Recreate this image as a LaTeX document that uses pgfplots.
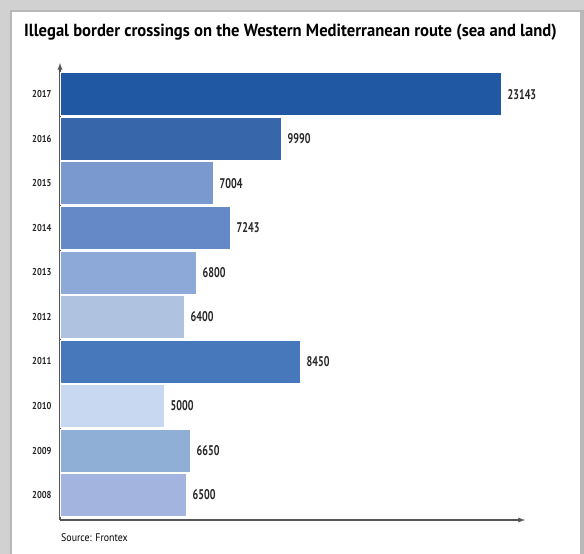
\documentclass[border=0pt]{standalone}
\usepackage{pgfplots}
\pgfplotsset{compat=1.18}
\usepackage{fontspec}
\setmainfont{PT Sans}
\newfontfamily\titlefont{PT Sans}[FakeStretch=0.95]
\newfontfamily\labfont{PT Sans}[FakeStretch=0.72]
\newfontfamily\tickfont{PT Sans}[FakeStretch=0.85]
\newfontfamily\srcfont{PT Sans}[FakeStretch=0.9]
\definecolor{c2017}{HTML}{2158A3}
\definecolor{c2016}{HTML}{3866AA}
\definecolor{c2015}{HTML}{7A9ACF}
\definecolor{c2014}{HTML}{6489C6}
\definecolor{c2013}{HTML}{8DA9D7}
\definecolor{c2012}{HTML}{AFC3E0}
\definecolor{c2011}{HTML}{4878BC}
\definecolor{c2010}{HTML}{C8D8F0}
\definecolor{c2009}{HTML}{8FAFD6}
\definecolor{c2008}{HTML}{A3B5DE}
\definecolor{axisgray}{HTML}{555555}
\begin{document}
\begin{tikzpicture}
% frame (screenshot shadow)
\fill[black!18] (0pt,0pt) rectangle (584pt,554pt);
\fill[black!28] (10pt,0pt) rectangle (584pt,544pt);
\fill[white] (12pt,0pt) rectangle (580pt,542pt);
% title
\node[anchor=base west, inner sep=0pt, font=\titlefont\bfseries\fontsize{17.5}{20}\selectfont] at (24pt,517pt) {Illegal border crossings on the Western Mediterranean route (sea and land)};
\begin{axis}[
  at={(60pt,34pt)}, anchor=south west,
  scale only axis, width=465pt, height=457pt,
  xbar, bar width=43pt, bar shift=0pt,
  xmin=0, xmax=24403,
  ymin=-0.56, ymax=9.7,
  axis lines=left,
  axis line style={axisgray, line width=1.3pt, -latex},
  xtick=\empty,
  ytick={0,...,9},
  yticklabels={2008,2009,2010,2011,2012,2013,2014,2015,2016,2017},
  major tick length=0pt,
  yticklabel style={font=\tickfont\bfseries\fontsize{10}{12}\selectfont, text=black!85, xshift=-5pt},
  point meta=explicit symbolic,
  nodes near coords={\pgfplotspointmeta},
  nodes near coords style={font=\labfont\bfseries\fontsize{14}{16}\selectfont, text=black!85, anchor=west, xshift=3pt},
  clip=false,
]
\addplot[fill=c2008, draw=white, line width=0.6pt] coordinates {(6612,0) [6500]};
\addplot[fill=c2009, draw=white, line width=0.6pt] coordinates {(6822,1) [6650]};
\addplot[fill=c2010, draw=white, line width=0.6pt] coordinates {(5458,2) [5000]};
\addplot[fill=c2011, draw=white, line width=0.6pt] coordinates {(12595,3) [8450]};
\addplot[fill=c2012, draw=white, line width=0.6pt] coordinates {(6508,4) [6400]};
\addplot[fill=c2013, draw=white, line width=0.6pt] coordinates {(7137,5) [6800]};
\addplot[fill=c2014, draw=white, line width=0.6pt] coordinates {(8922,6) [7243]};
\addplot[fill=c2015, draw=white, line width=0.6pt] coordinates {(8029,7) [7004]};
\addplot[fill=c2016, draw=white, line width=0.6pt] coordinates {(11598,8) [9990]};
\addplot[fill=c2017, draw=white, line width=0.6pt] coordinates {(23143,9) [23143]};
\end{axis}
\node[anchor=base west, inner sep=0pt, font=\srcfont\fontsize{11}{13}\selectfont] at (61pt,12pt) {Source: Frontex};
\pgfresetboundingbox
\useasboundingbox (0pt,0pt) rectangle (584pt,554pt);
\end{tikzpicture}
\end{document}
